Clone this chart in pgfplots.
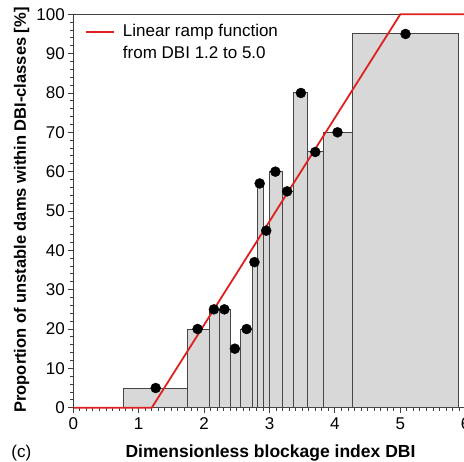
\documentclass[border=0pt]{standalone}
\usepackage{pgfplots}
\pgfplotsset{compat=1.18}
\usepackage{fontspec}
\setmainfont{Liberation Sans}
\definecolor{barfill}{RGB}{216,216,216}
\definecolor{bardraw}{RGB}{70,70,70}
\definecolor{axcol}{RGB}{64,64,64}
\definecolor{ramp}{RGB}{222,32,32}
\begin{document}
\begin{tikzpicture}[font=\fontsize{17}{20.4}\selectfont]
\path[use as bounding box] (-73.3pt,-54.3pt) rectangle (390.7pt,407.7pt);
\begin{axis}[
  at={(0pt,0pt)}, anchor=south west,
  width=392.4pt, height=393.4pt, scale only axis,
  xmin=0, xmax=6, ymin=0, ymax=100,
  xtick={0,1,2,3,4,5,6}, ytick={0,10,...,100},
  minor x tick num=9, minor y tick num=4,
  xtick pos=bottom, ytick pos=left,
  tick align=outside,
  major tick length=5pt, minor tick length=3pt,
  every tick/.style={axcol, line width=0.9pt},
  axis line style={axcol, line width=1pt},
  /pgf/number format/assume math mode=true,
  ticklabel style={font=\fontsize{17}{20.4}\selectfont},
  xticklabel style={yshift=-1.5pt},
  clip=false,
]
\addplot[ybar interval, fill=barfill, draw=bardraw, line width=1pt] coordinates {
 (0.765,5) (1.743,20) (2.075,25) (2.243,25) (2.40,15) (2.553,20) (2.733,37)
 (2.81,57) (2.906,45) (3.003,60) (3.196,55) (3.364,80) (3.584,65) (3.823,70)
 (4.272,95) (5.887,0)};
\addplot[ramp, line width=1.8pt] coordinates {(0,0) (1.2,0) (5.0,100) (6,100)};
\addplot[only marks, mark=*, mark size=5pt, black] coordinates {
 (1.26,5) (1.90,20) (2.15,25) (2.31,25) (2.47,15) (2.65,20) (2.77,37)
 (2.85,57) (2.95,45) (3.09,60) (3.27,55) (3.48,80) (3.70,65) (4.04,70) (5.08,95)};
\end{axis}
\draw[draw=ramp, line width=2pt] (12.7pt,376pt) -- (41pt,376pt);
\node[anchor=base west, inner sep=0pt] at (49.5pt,371.5pt) {Linear ramp function};
\node[anchor=base west, inner sep=0pt] at (49.5pt,349pt) {from DBI 1.2 to 5.0};
\node[anchor=base, inner sep=0pt, font=\fontsize{17.5}{21}\selectfont\bfseries] at (197.2pt,-49.5pt) {Dimensionless blockage index DBI};
\node[anchor=base, inner sep=0pt, rotate=90, font=\fontsize{16.5}{19.8}\selectfont\bfseries] at (-47.3pt,197.7pt) {Proportion of unstable dams within DBI-classes [\%]};
\node[anchor=base west, inner sep=0pt] at (-62pt,-50pt) {(c)};
\end{tikzpicture}
\end{document}
